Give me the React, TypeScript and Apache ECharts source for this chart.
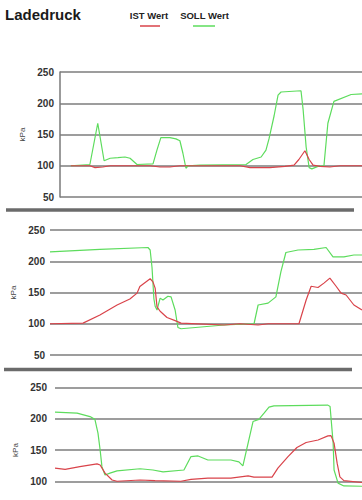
import React, { useEffect, useRef } from "react";
import * as echarts from "echarts";

// Panel 1 (time in % of panel width)
const p1SollT = [3.6, 9.9, 12.5, 14.6, 16.6, 19.2, 21.5, 23.2, 25.5, 30.8, 32.1, 33.4, 36.4, 38.4, 39.7, 40.7, 41.7, 42.4, 46.4, 61.6, 63.9, 66.6, 68.2, 69.2, 70.9, 72.2, 73.2, 79.8, 80.5, 81.5, 82.5, 83.4, 85.4, 87.4, 88.7, 90.7, 96.4, 100];
const p1SollV = [100, 102, 168, 108, 112, 113, 114, 112, 102, 103, 125, 145, 145, 143, 140, 120, 96, 100, 101, 102, 110, 114, 125, 143, 180, 213, 218, 220, 190, 130, 97, 95, 99, 100, 168, 203, 214, 215];
const p1IstT = [3.6, 9.9, 11.6, 14.2, 16.6, 29.8, 33.1, 36.4, 39.7, 46.4, 59.6, 62.9, 69.5, 74.5, 77.5, 79.1, 81.1, 82.5, 83.8, 86.1, 89.4, 92.7, 100];
const p1IstV = [100, 100, 97, 98, 100, 100, 98, 98, 100, 100, 100, 97, 97, 99, 101, 110, 124, 110, 101, 99, 98, 100, 100];

// Panel 2
const p2SollT = [0, 16, 31.4, 32.1, 32.7, 33.3, 33.7, 34.3, 35.3, 36.2, 37.8, 38.8, 40.1, 41.0, 42.0, 55.8, 65.4, 66.7, 69.9, 72.4, 74.0, 75.6, 79.5, 84.6, 88.5, 90.7, 94.2, 97.4, 100];
const p2SollV = [215, 219, 222, 218, 190, 140, 128, 122, 141, 138, 144, 143, 122, 94, 92, 98, 100, 130, 133, 143, 183, 214, 218, 219, 222, 207, 207, 210, 210];
const p2IstT = [0, 10.6, 16.0, 21.5, 25.6, 27.9, 28.8, 32.1, 33.0, 33.7, 34.3, 35.3, 37.5, 40.1, 42.0, 55.8, 60.9, 66.7, 69.9, 79.8, 82.1, 83.7, 85.9, 87.8, 89.7, 91.7, 93.3, 94.9, 97.4, 100];
const p2IstV = [100, 101, 114, 130, 139.5, 149, 159.5, 172, 167, 157, 127, 120, 110, 105, 101, 98, 100, 98, 100, 100, 138, 160, 158, 165, 173, 160, 149, 146, 130, 122];

// Panel 3
const p3SollT = [0, 7.2, 11.4, 13.0, 14.0, 14.7, 15.3, 16.3, 17.9, 20.2, 27.7, 31.9, 35.2, 42.0, 44.3, 46.6, 49.8, 57.3, 59.9, 61.2, 62.9, 64.5, 66.4, 68.1, 69.7, 71.3, 88.9, 89.6, 90.6, 90.9, 92.2, 94.1, 100];
const p3SollV = [210.6, 209, 203.5, 199, 177, 150, 123, 110, 113, 116.5, 120, 118, 115, 118, 139.5, 140.5, 134, 134, 131, 124.5, 161, 195.5, 199, 209, 218.6, 220.7, 221.8, 219.5, 161, 118, 97, 92.5, 92];
const p3IstT = [0, 3.3, 8.1, 13.7, 14.7, 16.3, 18.6, 20.2, 27.7, 32.6, 41.0, 44.3, 49.8, 57.3, 62.9, 64.8, 70.7, 72.6, 75.9, 78.8, 81.8, 85.7, 88.9, 89.9, 90.9, 91.9, 92.8, 94.1, 100];
const p3IstV = [121, 119, 123.5, 127.7, 126, 113, 102, 100, 102, 101, 100, 103, 105, 105, 108.5, 106.5, 106.5, 121, 139.5, 154, 162, 166, 172.6, 173, 161, 129, 107, 101, 98];

const yTicks = [50, 100, 150, 200, 250];
const seriesNames = ["IST Wert", "SOLL Wert"];
const titleText = "Ladedruck";
const unit = "kPa";

const RED = "#d9434a";
const GREEN = "#5ddc5d";

const zip = (t: number[], v: number[]) => t.map((x, i) => [x, v[i]]);

export default function App() {
  const ref = useRef<HTMLDivElement>(null);
  useEffect(() => {
    if (!ref.current) return;
    const chart = echarts.init(ref.current, null, { renderer: "svg" });
    const font = "Liberation Sans, Arial, sans-serif";
    const panels = [
      { left: 60, top: 72, margin: 6, nameGap: 25, axisLine: true, showMin: true, ist: zip(p1IstT, p1IstV), soll: zip(p1SollT, p1SollV) },
      { left: 50, top: 230, margin: 5, nameGap: 23, axisLine: false, showMin: true, ist: zip(p2IstT, p2IstV), soll: zip(p2SollT, p2SollV) },
      { left: 55, top: 387.5, margin: 8, nameGap: 28, axisLine: false, showMin: false, ist: zip(p3IstT, p3IstV), soll: zip(p3SollT, p3SollV) },
    ];
    const option: any = {
      animation: false,
      textStyle: { fontFamily: font },
      grid: panels.map((p) => ({ left: p.left, right: 0, top: p.top, height: 125 })),
      xAxis: panels.map((_, i) => ({
        type: "value",
        gridIndex: i,
        min: 0,
        max: 100,
        show: false,
      })),
      yAxis: panels.map((p, i) => ({
        type: "value",
        gridIndex: i,
        min: yTicks[0],
        max: yTicks[yTicks.length - 1],
        interval: 50,
        name: unit,
        nameLocation: "middle",
        nameRotate: 90,
        nameGap: p.nameGap,
        nameTextStyle: { fontSize: 8, color: "#444", fontFamily: font },
        axisLine: { show: p.axisLine, lineStyle: { color: "#7a7a7a", width: 1.5 } },
        axisTick: { show: false },
        axisLabel: { margin: p.margin, fontSize: 10, fontWeight: "bold", color: "#333", fontFamily: font, showMinLabel: p.showMin },
        splitLine: { show: true, lineStyle: { color: "#7d7d7d", width: 1.6 } },
      })),
      series: panels.flatMap((p, i) => [
        {
          name: seriesNames[0],
          type: "line",
          xAxisIndex: i,
          yAxisIndex: i,
          data: p.ist,
          showSymbol: false,
          lineStyle: { color: RED, width: 1.2 },
          z: 3,
        },
        {
          name: seriesNames[1],
          type: "line",
          xAxisIndex: i,
          yAxisIndex: i,
          data: p.soll,
          showSymbol: false,
          lineStyle: { color: GREEN, width: 1.2 },
          z: 2,
        },
      ]),
      graphic: [
        { type: "text", left: 5, top: 7, style: { text: titleText, fontSize: 15, fontWeight: "bold", fill: "#1a1a1a", fontFamily: font } },
        { type: "text", x: 149, y: 15, style: { text: seriesNames[0], fontSize: 9.5, fontWeight: "bold", fill: "#222", align: "center", verticalAlign: "middle", fontFamily: font } },
        { type: "text", x: 204.5, y: 15, style: { text: seriesNames[1], fontSize: 9.5, fontWeight: "bold", fill: "#222", align: "center", verticalAlign: "middle", fontFamily: font } },
        { type: "line", shape: { x1: 140, y1: 26, x2: 160, y2: 26 }, style: { stroke: RED, lineWidth: 1.5 } },
        { type: "line", shape: { x1: 193, y1: 26, x2: 215, y2: 26 }, style: { stroke: GREEN, lineWidth: 1.5 } },
        { type: "line", shape: { x1: 6, y1: 210, x2: 354, y2: 210 }, style: { stroke: "#6b6b6b", lineWidth: 3.5 } },
        { type: "line", shape: { x1: 4, y1: 369.5, x2: 352, y2: 369.5 }, style: { stroke: "#6b6b6b", lineWidth: 3.5 } },
      ],
    };
    chart.setOption(option);
    return () => chart.dispose();
  }, []);
  return (
    <div style={{ position: "fixed", left: 0, top: 0, width: 362, height: 500, overflow: "hidden", background: "#fff" }}>
      <div ref={ref} style={{ width: 362, height: 540 }} />
    </div>
  );
}
